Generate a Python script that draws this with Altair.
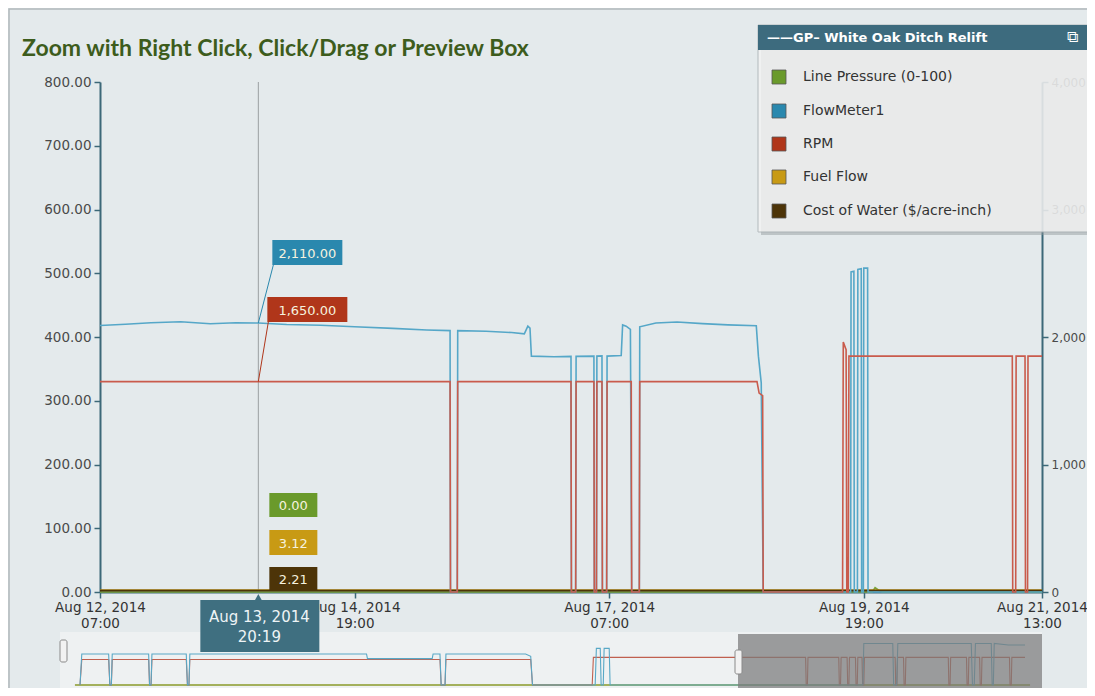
import altair as alt
import pandas as pd
from datetime import datetime

# ---------------- data ----------------
series_names = ["Line Pressure (0-100)", "FlowMeter1", "RPM", "Fuel Flow", "Cost of Water ($/acre-inch)"]
legend_colors = ["#6a9a2b", "#2a88ae", "#b0361a", "#c89a14", "#4d3408"]
line_colors = ["#7ba23a", "#55a7c8", "#c95b4c", "#b58a12", "#4d3408"]
legend_header = "——GP– White Oak Ditch Relift"
chart_title = "Zoom with Right Click, Click/Drag or Preview Box"

x_start = "2014-08-12T07:00:00"
x_end = "2014-08-21T13:00:00"
x_ticks = ["2014-08-12T07:00:00", "2014-08-14T19:00:00", "2014-08-17T07:00:00",
           "2014-08-19T19:00:00", "2014-08-21T13:00:00"]
left_ticks = [0, 100, 200, 300, 400, 500, 600, 700, 800]
right_ticks = [0, 1000, 2000, 3000, 4000]

flow_points = [
    ("2014-08-12T07:00:00", 2090), ("2014-08-12T13:00:00", 2100), ("2014-08-12T19:00:00", 2112),
    ("2014-08-13T02:00:00", 2120), ("2014-08-13T09:00:00", 2104), ("2014-08-13T15:00:00", 2112),
    ("2014-08-13T20:19:00", 2110), ("2014-08-14T03:00:00", 2098), ("2014-08-14T11:00:00", 2092),
    ("2014-08-14T19:00:00", 2080), ("2014-08-15T04:00:00", 2068), ("2014-08-15T12:00:00", 2055),
    ("2014-08-15T17:30:00", 2050), ("2014-08-15T17:36:00", 0), ("2014-08-15T19:12:00", 0),
    ("2014-08-15T19:18:00", 2050), ("2014-08-16T02:00:00", 2045), ("2014-08-16T08:00:00", 2035),
    ("2014-08-16T11:00:00", 2025), ("2014-08-16T11:50:00", 2085), ("2014-08-16T12:20:00", 2070),
    ("2014-08-16T12:40:00", 1850), ("2014-08-16T18:00:00", 1845), ("2014-08-16T22:00:00", 1848),
    ("2014-08-16T22:06:00", 0), ("2014-08-16T23:06:00", 0), ("2014-08-16T23:12:00", 1848),
    ("2014-08-17T03:24:00", 1850), ("2014-08-17T03:30:00", 0), ("2014-08-17T04:00:00", 0),
    ("2014-08-17T04:06:00", 1850), ("2014-08-17T05:18:00", 1852), ("2014-08-17T05:24:00", 0),
    ("2014-08-17T06:24:00", 0), ("2014-08-17T06:30:00", 1850), ("2014-08-17T09:50:00", 1855),
    ("2014-08-17T10:10:00", 2095), ("2014-08-17T11:00:00", 2085), ("2014-08-17T12:00:00", 2060),
    ("2014-08-17T12:18:00", 0), ("2014-08-17T14:06:00", 0), ("2014-08-17T14:12:00", 2080),
    ("2014-08-17T18:00:00", 2110), ("2014-08-17T23:00:00", 2118), ("2014-08-18T05:00:00", 2105),
    ("2014-08-18T11:00:00", 2095), ("2014-08-18T17:40:00", 2088), ("2014-08-18T18:10:00", 1850),
    ("2014-08-18T18:50:00", 1640), ("2014-08-18T19:18:00", 0), ("2014-08-19T15:54:00", 0),
    ("2014-08-19T16:00:00", 2510), ("2014-08-19T16:40:00", 2515), ("2014-08-19T16:46:00", 0),
    ("2014-08-19T17:30:00", 0), ("2014-08-19T17:36:00", 2530), ("2014-08-19T18:24:00", 2535),
    ("2014-08-19T18:30:00", 0), ("2014-08-19T18:54:00", 0), ("2014-08-19T19:00:00", 2540),
    ("2014-08-19T19:54:00", 2540), ("2014-08-19T20:00:00", 0), ("2014-08-21T13:00:00", 0),
]

rpm_points = [
    ("2014-08-12T07:00:00", 1650), ("2014-08-15T17:30:00", 1650), ("2014-08-15T17:36:00", 0),
    ("2014-08-15T19:12:00", 0), ("2014-08-15T19:18:00", 1650), ("2014-08-16T22:00:00", 1650),
    ("2014-08-16T22:06:00", 0), ("2014-08-16T23:06:00", 0), ("2014-08-16T23:12:00", 1650),
    ("2014-08-17T03:24:00", 1650), ("2014-08-17T03:30:00", 0), ("2014-08-17T04:00:00", 0),
    ("2014-08-17T04:06:00", 1650), ("2014-08-17T05:18:00", 1650), ("2014-08-17T05:24:00", 0),
    ("2014-08-17T06:24:00", 0), ("2014-08-17T06:30:00", 1650), ("2014-08-17T12:12:00", 1650),
    ("2014-08-17T12:18:00", 0), ("2014-08-17T14:06:00", 0), ("2014-08-17T14:12:00", 1650),
    ("2014-08-18T17:50:00", 1650), ("2014-08-18T18:20:00", 1560), ("2014-08-18T19:10:00", 1540),
    ("2014-08-18T19:18:00", 0), ("2014-08-19T14:00:00", 0), ("2014-08-19T14:10:00", 1960),
    ("2014-08-19T14:50:00", 1900), ("2014-08-19T15:00:00", 0), ("2014-08-19T15:20:00", 0),
    ("2014-08-19T15:30:00", 1850), ("2014-08-21T06:00:00", 1850), ("2014-08-21T06:06:00", 0),
    ("2014-08-21T06:48:00", 0), ("2014-08-21T06:54:00", 1850), ("2014-08-21T09:00:00", 1850),
    ("2014-08-21T09:06:00", 0), ("2014-08-21T09:36:00", 0), ("2014-08-21T09:42:00", 1850),
    ("2014-08-21T13:00:00", 1850),
]

pressure_points = [
    ("2014-08-12T07:00:00", 0), ("2014-08-19T21:00:00", 0), ("2014-08-19T21:40:00", 7),
    ("2014-08-19T22:40:00", 2), ("2014-08-19T23:20:00", 0), ("2014-08-21T13:00:00", 0),
]
fuel_points = [("2014-08-12T07:00:00", 3.1), ("2014-08-13T20:19:00", 3.12), ("2014-08-21T13:00:00", 3.1)]
cost_points = [("2014-08-12T07:00:00", 2.2), ("2014-08-13T20:19:00", 2.21), ("2014-08-21T13:00:00", 2.2)]

cursor_time = "2014-08-13T20:19:00"
cursor_values = [0.00, 2110.00, 1650.00, 3.12, 2.21]

# navigator (preview box) series: hours from start of navigator range
nav_hours_domain = [0, 329]
nav_flow_points = [
    (6.7, 0), (7.3, 2000), (16.3, 2000), (16.7, 0), (17.2, 0), (17.5, 2000), (29.7, 2000), (30.0, 0),
    (30.5, 0), (30.8, 2000), (42.3, 2000), (42.7, 0), (43.2, 0), (43.5, 2000), (102.7, 2000),
    (103.0, 1700), (124.7, 1700), (125.0, 2000), (127.3, 2000), (127.7, 0), (129.0, 0), (129.3, 2000),
    (156.0, 2000), (157.7, 1850), (158.3, 0), (179.3, 0), (179.7, 2360), (181.0, 2360), (181.3, 0),
    (182.0, 0), (182.3, 2360), (184.0, 2360), (184.3, 0), (269.0, 0), (269.3, 2680), (279.0, 2680),
    (279.3, 0), (280.3, 0), (280.7, 2680), (305.3, 2680), (305.7, 0), (306.3, 0), (306.7, 2680),
    (312.0, 2680), (312.3, 0), (312.7, 0), (313.0, 2680), (317.7, 2576), (323.3, 2576),
]
nav_rpm_points = [
    (6.7, 0), (7.3, 1650), (16.3, 1650), (16.7, 0), (17.2, 0), (17.5, 1650), (29.7, 1650), (30.0, 0),
    (30.5, 0), (30.8, 1650), (42.3, 1650), (42.7, 0), (43.2, 0), (43.5, 1650), (127.3, 1650),
    (127.7, 0), (129.0, 0), (129.3, 1650), (157.7, 1650), (158.3, 0), (178.3, 0), (178.7, 1780),
    (249.8, 1780), (250.0, 0), (250.4, 0), (250.6, 1780),
    (260.9, 1780), (261.1, 0), (261.5, 0), (261.7, 1780),
    (263.7, 1780), (263.9, 0), (264.3, 0), (264.5, 1780),
    (266.5, 1780), (266.7, 0), (267.1, 0), (267.3, 1780),
    (268.7, 1780), (268.9, 0), (269.3, 0), (269.5, 1780),
    (279.8, 1780), (280.0, 0), (280.4, 0), (280.6, 1780),
    (282.6, 1780), (282.8, 0), (283.2, 0), (283.4, 1780),
    (297.6, 1780), (297.8, 0), (298.2, 0), (298.4, 1780),
    (303.7, 1780), (303.9, 0), (304.3, 0), (304.5, 1780),
    (308.1, 1780), (308.3, 0), (308.7, 0), (308.9, 1780),
    (318.1, 1780), (318.3, 0), (318.7, 0), (318.9, 1780),
    (323.3, 1780),
]
nav_pressure_points = [(5.0, 0), (325.0, 0)]

# ---------------- layout / style ----------------
W, H = 942, 510
AXIS_COLOR = "#3c6878"
BG = "#e4eaec"
FONT = "DejaVu Sans"


def dt(s):
    d = datetime.strptime(s, "%Y-%m-%dT%H:%M:%S")
    return alt.DateTime(year=d.year, month=d.month, date=d.day, hours=d.hour, minutes=d.minute)


x_dom = [dt(x_start), dt(x_end)]
one = pd.DataFrame({"k": [0]})


def xT(axis=None):
    if axis is None:
        return alt.X("time:T", scale=alt.Scale(domain=x_dom, nice=False), axis=None, title=None)
    return alt.X("time:T", scale=alt.Scale(domain=x_dom, nice=False), axis=axis, title=None)


def yQ(dom, axis=None):
    if axis is None:
        return alt.Y("value:Q", scale=alt.Scale(domain=dom, nice=False), axis=None, title=None)
    return alt.Y("value:Q", scale=alt.Scale(domain=dom, nice=False), axis=axis, title=None)


def pts_df(points):
    return pd.DataFrame({"time": [p[0] for p in points], "value": [p[1] for p in points]})


def nav_df(points):
    return pd.DataFrame({"h": [p[0] for p in points], "value": [p[1] for p in points]})


x_axis = alt.Axis(
    orient="bottom", values=[dt(t) for t in x_ticks],
    labelExpr="[timeFormat(datum.value, '%b %d, %Y'), timeFormat(datum.value, '%H:%M')]",
    labelFont=FONT, labelFontSize=13.5, labelColor="#333333", labelLineHeight=16,
    labelFlush=False, labelOverlap=False, labelPadding=2, labelBaseline="top",
    tickSize=6, tickColor=AXIS_COLOR, tickWidth=1.5, domainColor=AXIS_COLOR, domainWidth=2,
    grid=False, zindex=0,
)
left_axis = alt.Axis(
    orient="left", values=left_ticks, format=",.2f", labelFont=FONT, labelFontSize=13.5,
    labelColor="#4a4a4a", labelPadding=3, tickSize=6, tickColor=AXIS_COLOR, tickWidth=1.5,
    domainColor=AXIS_COLOR, domainWidth=2, grid=False, zindex=0,
)
right_axis = alt.Axis(
    orient="right", values=right_ticks, format=",d", labelFont=FONT, labelFontSize=12,
    labelColor="#4a4a4a", labelPadding=3, tickSize=6, tickColor=AXIS_COLOR, tickWidth=1.5,
    domainColor=AXIS_COLOR, domainWidth=2, grid=False, zindex=0,
)

layers = []

# outer frame
layers.append(alt.Chart(one).mark_rect(filled=False, stroke="#b0b8bb", strokeWidth=1.5).encode(
    x=alt.value(-91), x2=alt.value(990), y=alt.value(-73), y2=alt.value(610)))

# navigator background
layers.append(alt.Chart(one).mark_rect(fill="#eef1f2").encode(
    x=alt.value(-40), x2=alt.value(W), y=alt.value(550), y2=alt.value(610)))

# crosshair
cur_df = pd.DataFrame({"time": [cursor_time]})
layers.append(alt.Chart(cur_df).mark_rule(color="#9a9fa2", strokeWidth=1).encode(
    x=xT(), y=alt.value(0), y2=alt.value(H)))

# main lines, left scale
layers.append(alt.Chart(pts_df(pressure_points)).mark_line(color=line_colors[0], strokeWidth=1.6).encode(
    x=xT(x_axis), y=yQ([0, 800], left_axis)))
layers.append(alt.Chart(pts_df(fuel_points)).mark_line(color=line_colors[3], strokeWidth=1.6).encode(
    x=xT(), y=yQ([0, 800])))
layers.append(alt.Chart(pts_df(cost_points)).mark_line(color=line_colors[4], strokeWidth=1.6).encode(
    x=xT(), y=yQ([0, 800])))

# main lines, right scale
layers.append(alt.Chart(pts_df(flow_points)).mark_line(color=line_colors[1], strokeWidth=1.6).encode(
    x=xT(), y=yQ([0, 4000], right_axis)))
layers.append(alt.Chart(pts_df(rpm_points)).mark_line(color=line_colors[2], strokeWidth=1.6).encode(
    x=xT(), y=yQ([0, 4000])))

# tooltip boxes: (x offset start, x offset end, top, bottom) per series
tip_layout = [(11, 59, 411, 435), (14, 84, 158, 183), (9, 89, 215, 240), (11, 59, 448, 473), (11, 59, 485, 509)]
tip_scales = [[0, 800], [0, 4000], [0, 4000], [0, 800], [0, 800]]
for i in [1, 2]:
    x0, x1, top, bot = tip_layout[i]
    ldf = pd.DataFrame({"time": [cursor_time], "value": [cursor_values[i]]})
    layers.append(alt.Chart(ldf).mark_rule(color=legend_colors[i], strokeWidth=1, x2Offset=x0 + 1).encode(
        x=xT(), x2="time:T", y=yQ(tip_scales[i]), y2=alt.value(bot)))
for i in range(5):
    x0, x1, top, bot = tip_layout[i]
    tdf = pd.DataFrame({"time": [cursor_time], "label": [f"{cursor_values[i]:,.2f}"]})
    layers.append(alt.Chart(tdf).mark_rect(fill=legend_colors[i], xOffset=x0, x2Offset=x1).encode(
        x=xT(), x2="time:T", y=alt.value(top), y2=alt.value(bot)))
    layers.append(alt.Chart(tdf).mark_text(
        align="center", baseline="middle", dx=(x0 + x1) / 2, font=FONT, fontSize=13, color="#f6f2df"
    ).encode(x=xT(), y=alt.value((top + bot) / 2 + 1), text="label:N"))

# date box under crosshair
cd = datetime.strptime(cursor_time, "%Y-%m-%dT%H:%M:%S")
ddf = pd.DataFrame({"time": [cursor_time], "l1": [cd.strftime("%b %d, %Y")], "l2": [cd.strftime("%H:%M")]})
DATE_BG = "#3f6f80"
layers.append(alt.Chart(ddf).mark_rect(fill=DATE_BG, xOffset=-58, x2Offset=61).encode(
    x=xT(), x2="time:T", y=alt.value(518), y2=alt.value(570)))
layers.append(alt.Chart(ddf).mark_point(shape="triangle-up", filled=True, size=45, color=DATE_BG, opacity=1).encode(
    x=xT(), y=alt.value(515)))
layers.append(alt.Chart(ddf).mark_text(align="center", baseline="middle", dx=1, font=FONT, fontSize=15,
                                       color="#eef4f6").encode(x=xT(), y=alt.value(535), text="l1:N"))
layers.append(alt.Chart(ddf).mark_text(align="center", baseline="middle", dx=1, font=FONT, fontSize=15,
                                       color="#eef4f6").encode(x=xT(), y=alt.value(555), text="l2:N"))

# navigator series
nx = alt.X("h:Q", scale=alt.Scale(domain=nav_hours_domain, range=[-40, W], nice=False, zero=False), axis=None, title=None)
ny = alt.Y("value:Q", scale=alt.Scale(domain=[0, 4000], range=[603, 541], nice=False), axis=None, title=None)
layers.append(alt.Chart(nav_df(nav_pressure_points)).mark_line(color="#8a9a2a", strokeWidth=1.5).encode(x=nx, y=ny))
layers.append(alt.Chart(nav_df(nav_rpm_points)).mark_line(color="#c0604f", strokeWidth=1.1).encode(x=nx, y=ny))
layers.append(alt.Chart(nav_df(nav_flow_points)).mark_line(color="#58a8c6", strokeWidth=1.1).encode(x=nx, y=ny))

# navigator mask and handles
layers.append(alt.Chart(one).mark_rect(fill="#7a7a7a", opacity=0.72).encode(
    x=alt.value(638), x2=alt.value(W), y=alt.value(552), y2=alt.value(610)))
layers.append(alt.Chart(one).mark_rect(fill="#f2f2f2", stroke="#8a8a8a", strokeWidth=1, cornerRadius=2).encode(
    x=alt.value(-40), x2=alt.value(-33), y=alt.value(558), y2=alt.value(580)))
layers.append(alt.Chart(one).mark_rect(fill="#f2f2f2", stroke="#8a8a8a", strokeWidth=1, cornerRadius=2).encode(
    x=alt.value(635), x2=alt.value(642), y=alt.value(568), y2=alt.value(592)))

# legend box
layers.append(alt.Chart(one).mark_rect(fill="#8d9699", opacity=0.45).encode(
    x=alt.value(661), x2=alt.value(993), y=alt.value(-54), y2=alt.value(153)))
layers.append(alt.Chart(one).mark_rect(fill="#f3f3f3", opacity=0.82, stroke="#a9b0b3", strokeWidth=1).encode(
    x=alt.value(658), x2=alt.value(990), y=alt.value(-57), y2=alt.value(150)))
layers.append(alt.Chart(one).mark_rect(fill="#3d6b7e").encode(
    x=alt.value(658), x2=alt.value(990), y=alt.value(-57), y2=alt.value(-32)))
layers.append(alt.Chart(pd.DataFrame({"t": [legend_header]})).mark_text(
    align="left", baseline="middle", font=FONT, fontSize=13, fontWeight="bold", color="#ffffff"
).encode(x=alt.value(667), y=alt.value(-44), text="t:N"))
layers.append(alt.Chart(pd.DataFrame({"t": ["⧉"]})).mark_text(
    align="center", baseline="middle", font=FONT, fontSize=16, color="#ffffff"
).encode(x=alt.value(972), y=alt.value(-45), text="t:N"))

row_y = [-5, 29, 62, 95, 129]
for i in range(5):
    layers.append(alt.Chart(one).mark_square(size=196, filled=True, fill=legend_colors[i], stroke="#555555",
                                             strokeWidth=0.8, opacity=1).encode(
        x=alt.value(679), y=alt.value(row_y[i])))
    layers.append(alt.Chart(pd.DataFrame({"t": [series_names[i]]})).mark_text(
        align="left", baseline="middle", font=FONT, fontSize=14, color="#333333"
    ).encode(x=alt.value(703), y=alt.value(row_y[i]), text="t:N"))

# title
layers.append(alt.Chart(pd.DataFrame({"t": [chart_title]})).mark_text(
    align="left", baseline="alphabetic", font="Lato", fontSize=23, fontWeight="bold", color="#3d5c1c"
).encode(x=alt.value(-78), y=alt.value(-26), text="t:N"))

chart = alt.layer(*layers).resolve_scale(x="independent", y="independent").properties(
    width=W, height=H,
    autosize=alt.AutoSizeParams(type="none"),
    padding={"left": 92, "top": 74, "right": 1079 - 92 - W, "bottom": 96},
    background=BG,
).configure_view(strokeWidth=0)

chart.save("out.html", embed_options={"renderer": "svg", "actions": False})
